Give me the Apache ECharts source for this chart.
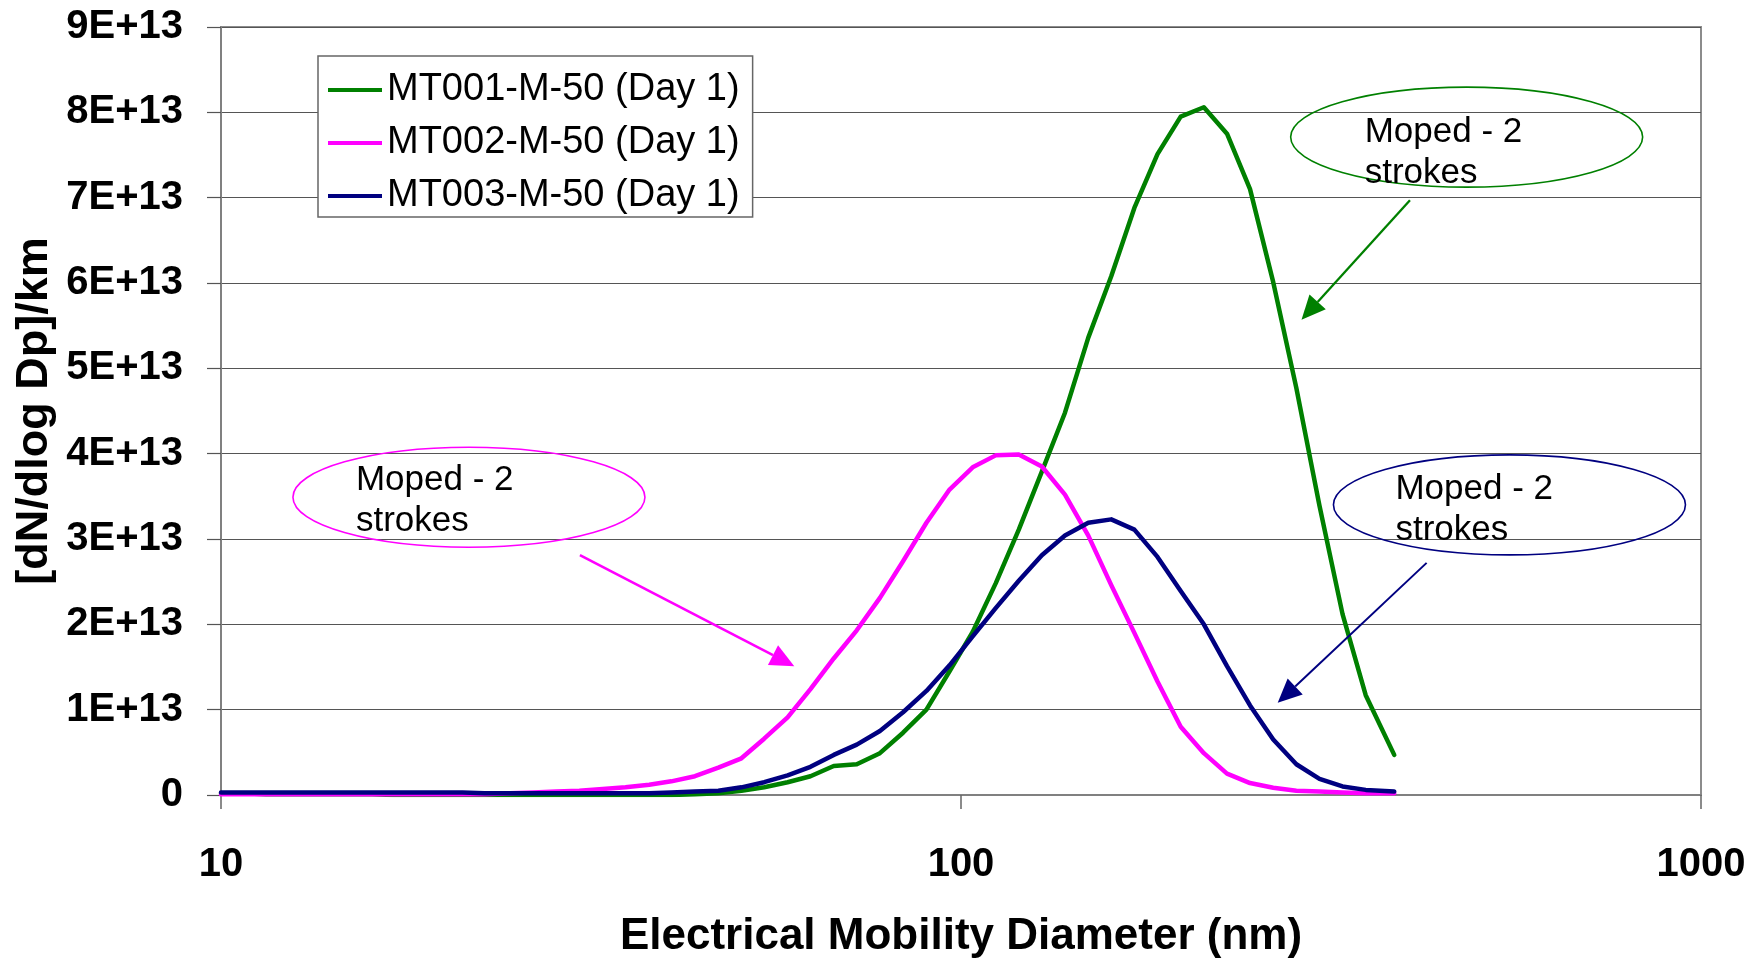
<!DOCTYPE html>
<html>
<head>
<meta charset="utf-8">
<script src="https://cdn.jsdelivr.net/npm/echarts@6.0.0/dist/echarts.min.js"></script>
<style>
  html, body { margin: 0; padding: 0; background: #ffffff; }
  #chart { width: 1761px; height: 965px; }
</style>
</head>
<body>
<div id="chart"></div>
<script>
// Electrical mobility diameter channels (nm)
const diameters = [10.0, 10.7, 11.5, 12.2, 13.1, 14.0, 15.0, 16.0, 17.1, 18.4, 19.8, 21.2, 22.7,
  24.6, 26.4, 28.4, 30.5, 32.8, 35.2, 37.9, 40.6, 43.7, 47.0, 50.5, 54.2, 58.3, 62.6, 67.3, 72.3,
  77.7, 83.5, 89.8, 96.5, 103.7, 111.4, 119.7, 128.6, 138.2, 148.6, 159.6, 171.5, 184.3, 198.1,
  212.9, 228.8, 245.8, 264.2, 283.9, 305.1, 327.8, 352.3, 385];

// dN/dlogDp per km, in units of 1E+13
const mt001 = [0.02, 0.02, 0.01, 0.01, 0.01, 0.01, 0.01, 0.01, 0, 0, 0, 0, 0,
  0, 0, 0, 0, 0, 0, 0, 0, 0.01, 0.02, 0.05, 0.09, 0.15, 0.22, 0.34, 0.36,
  0.49, 0.73, 1.00, 1.45, 1.91, 2.48, 3.11, 3.79, 4.48, 5.36, 6.08, 6.88, 7.51, 7.95,
  8.06, 7.75, 7.10, 6.01, 4.77, 3.39, 2.12, 1.17, 0.47];

const mt002 = [0.01, 0.01, 0.01, 0.01, 0.01, 0.01, 0.01, 0.01, 0.01, 0.01, 0.01, 0.01, 0.01,
  0.02, 0.03, 0.04, 0.05, 0.07, 0.09, 0.12, 0.16, 0.22, 0.32, 0.43, 0.66, 0.91, 1.24, 1.60, 1.93,
  2.31, 2.74, 3.19, 3.58, 3.84, 3.98, 3.99, 3.85, 3.52, 3.04, 2.46, 1.90, 1.33, 0.80,
  0.49, 0.25, 0.14, 0.085, 0.05, 0.04, 0.03, 0.02, 0.02];

const mt003 = [0.03, 0.03, 0.03, 0.03, 0.03, 0.03, 0.03, 0.03, 0.03, 0.03, 0.03, 0.03, 0.02,
  0.02, 0.02, 0.02, 0.02, 0.02, 0.02, 0.02, 0.03, 0.04, 0.05, 0.09, 0.15, 0.23, 0.33, 0.47, 0.59,
  0.75, 0.97, 1.22, 1.52, 1.86, 2.19, 2.51, 2.81, 3.04, 3.19, 3.23, 3.11, 2.79, 2.39,
  2.00, 1.51, 1.05, 0.65, 0.36, 0.19, 0.10, 0.06, 0.04];

const seriesNames = ['MT001-M-50 (Day 1)', 'MT002-M-50 (Day 1)', 'MT003-M-50 (Day 1)'];
const seriesValues = [mt001, mt002, mt003];
const seriesColors = ['#008000', '#ff00ff', '#000080'];

const yTickLabels = ['0', '1E+13', '2E+13', '3E+13', '4E+13', '5E+13', '6E+13', '7E+13', '8E+13', '9E+13'];
const xTickLabels = { 10: '10', 100: '100', 1000: '1000' };

const xTitle = 'Electrical Mobility Diameter (nm)';
const yTitle = '[dN/dlog Dp]/km';

// Callout bubbles: anchor points in data space (diameter, value)
const calloutText = 'Moped - 2\nstrokes';
const callouts = [
  { color: '#ff00ff', center: [21.63, 3.49], from: [30.55, 2.81], to: [59.53, 1.51], textDx: -113, textDy: 4, arrowWidth: 2.6 },
  { color: '#008000', center: [482.3, 7.71], from: [404.3, 6.97], to: [288.5, 5.57], textDx: -102, textDy: 16, arrowWidth: 2.3 },
  { color: '#000080', center: [551.0, 3.40], from: [425.8, 2.72], to: [267.9, 1.08], textDx: -114, textDy: 5, arrowWidth: 2.0 }
];

const FONT = "'Liberation Sans', Arial, sans-serif";

const chart = echarts.init(document.getElementById('chart'), null, { renderer: 'canvas' });

const series = seriesNames.map((name, i) => ({
  name: name,
  type: 'line',
  data: diameters.map((d, j) => [d, seriesValues[i][j]]),
  showSymbol: false,
  symbol: 'none',
  smooth: false,
  animation: false,
  z: 2 + i,
  lineStyle: { color: seriesColors[i], width: 4.5, cap: 'round', join: 'round' },
  itemStyle: { color: seriesColors[i] }
}));

chart.setOption({
  backgroundColor: '#ffffff',
  animation: false,
  grid: {
    left: 221, top: 27, width: 1480, height: 768,
    containLabel: false,
    outerBoundsMode: 'none',
    show: true,
    borderColor: '#8c8c8c',
    borderWidth: 2,
    backgroundColor: 'transparent'
  },
  legend: {
    show: true,
    orient: 'vertical',
    left: 318,
    top: 56,
    backgroundColor: '#ffffff',
    borderColor: '#666666',
    borderWidth: 1.5,
    borderRadius: 0,
    padding: [14, 13, 1, 10],
    itemWidth: 54,
    itemHeight: 4,
    itemGap: 13,
    icon: 'rect',
    selectedMode: false,
    data: seriesNames,
    textStyle: { fontFamily: FONT, fontSize: 38, lineHeight: 40, color: '#000000' }
  },
  xAxis: {
    type: 'log',
    logBase: 10,
    min: 10,
    max: 1000,
    name: xTitle,
    nameLocation: 'middle',
    nameGap: 120,
    nameMoveOverlap: false,
    nameTextStyle: { fontFamily: FONT, fontSize: 44, fontWeight: 'bold', color: '#000000' },
    axisLine: { show: true, onZero: false, lineStyle: { color: '#808080', width: 2 } },
    axisTick: { show: true, inside: false, length: 14, lineStyle: { color: '#666666', width: 1.5 } },
    minorTick: { show: false },
    splitLine: { show: false },
    axisLabel: {
      show: true,
      margin: 50,
      fontFamily: FONT,
      fontSize: 40,
      fontWeight: 'bold',
      color: '#000000',
      showMinLabel: true,
      showMaxLabel: true,
      formatter: v => xTickLabels[Math.round(v)] || ''
    }
  },
  yAxis: {
    type: 'value',
    min: 0,
    max: 9,
    interval: 1,
    name: yTitle,
    nameLocation: 'middle',
    nameRotate: 90,
    nameGap: 164,
    nameMoveOverlap: false,
    nameTextStyle: { fontFamily: FONT, fontSize: 45, fontWeight: 'bold', color: '#000000' },
    axisLine: { show: true, lineStyle: { color: '#808080', width: 2 } },
    axisTick: { show: true, inside: false, length: 14, lineStyle: { color: '#555555', width: 1.2 } },
    splitLine: { show: true, lineStyle: { color: '#555555', width: 1.2 } },
    axisLabel: {
      show: true,
      margin: 38,
      fontFamily: FONT,
      fontSize: 40,
      fontWeight: 'bold',
      color: '#000000',
      formatter: v => yTickLabels[Math.round(v)]
    }
  },
  series: series
});

// Callout ellipses, captions and arrows, positioned through the axes
function buildCallouts() {
  const els = [];
  const headLen = 24, headHalf = 11;
  callouts.forEach(c => {
    const ctr = chart.convertToPixel({ gridIndex: 0 }, c.center);
    const p0 = chart.convertToPixel({ gridIndex: 0 }, c.from);
    const p1 = chart.convertToPixel({ gridIndex: 0 }, c.to);
    els.push({
      type: 'ellipse',
      shape: { cx: ctr[0], cy: ctr[1], rx: 176, ry: 50 },
      style: { fill: 'none', stroke: c.color, lineWidth: 1.6 },
      z: 20
    });
    els.push({
      type: 'text',
      x: ctr[0] + c.textDx,
      y: ctr[1] + c.textDy,
      style: {
        text: calloutText,
        fontFamily: FONT,
        fontSize: 35,
        lineHeight: 41,
        fill: '#000000',
        align: 'left',
        verticalAlign: 'middle'
      },
      z: 21
    });
    const dx = p1[0] - p0[0], dy = p1[1] - p0[1];
    const len = Math.sqrt(dx * dx + dy * dy);
    const ux = dx / len, uy = dy / len;
    const bx = p1[0] - headLen * ux, by = p1[1] - headLen * uy;
    els.push({
      type: 'line',
      shape: { x1: p0[0], y1: p0[1], x2: bx, y2: by },
      style: { stroke: c.color, lineWidth: c.arrowWidth },
      z: 20
    });
    els.push({
      type: 'polygon',
      shape: { points: [[p1[0], p1[1]], [bx - headHalf * uy, by + headHalf * ux], [bx + headHalf * uy, by - headHalf * ux]] },
      style: { fill: c.color },
      z: 20
    });
  });
  chart.setOption({ graphic: { elements: els } });
}
buildCallouts();
</script>
</body>
</html>
